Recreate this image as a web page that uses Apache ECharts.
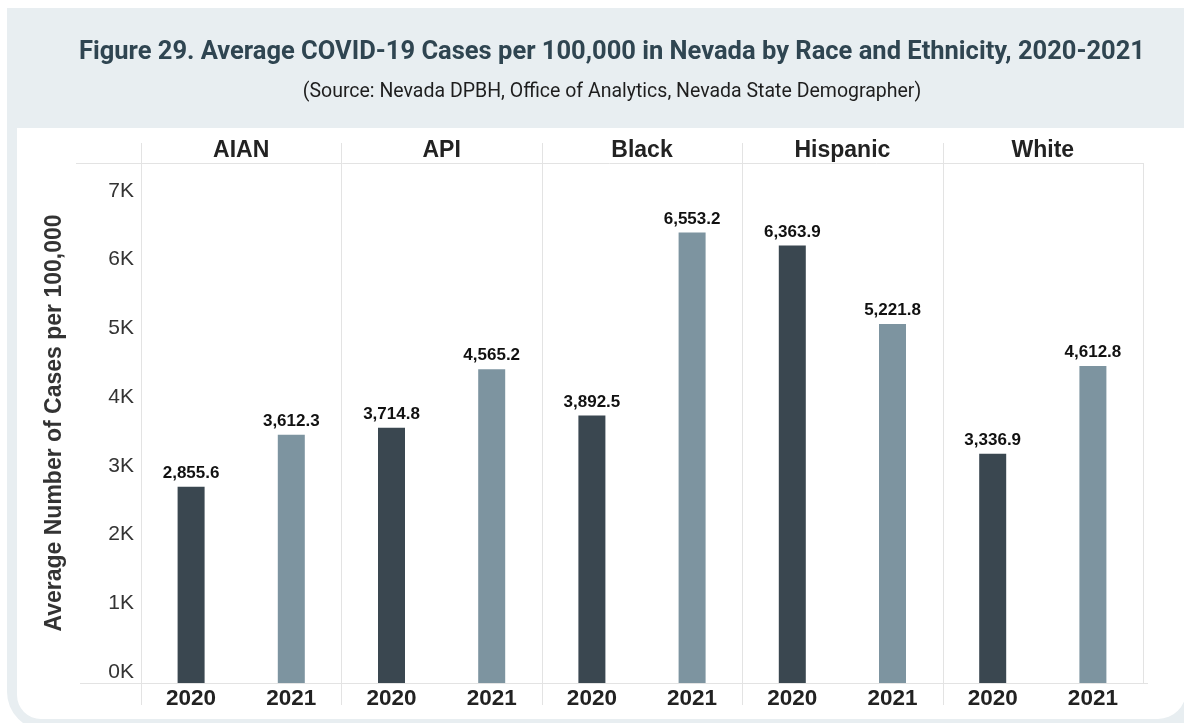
<!DOCTYPE html>
<html>
<head>
<meta charset="utf-8">
<script src="https://cdn.jsdelivr.net/npm/echarts@6/dist/echarts.min.js"></script>
<style>
html,body{margin:0;padding:0;background:#fff;}
#chart{width:1184px;height:723px;}
</style>
</head>
<body>
<div id="chart"></div>
<script>
// ---- data ----
var groups = ['AIAN', 'API', 'Black', 'Hispanic', 'White'];
var years = ['2020', '2021'];
var values2020 = [2855.6, 3714.8, 3892.5, 6363.9, 3336.9];
var values2021 = [3612.3, 4565.2, 6553.2, 5221.8, 4612.8];
var yTicks = [0, 1000, 2000, 3000, 4000, 5000, 6000, 7000];

var titleText = 'Figure 29. Average COVID-19 Cases per 100,000 in Nevada by Race and Ethnicity, 2020-2021';
var subtitleText = '(Source: Nevada DPBH, Office of Analytics, Nevada State Demographer)';
var yAxisTitle = 'Average Number of Cases per 100,000';

// ---- styling / layout ----
var COLORS = {'2020': '#3a4750', '2021': '#7d94a0'};
var FRAME = '#e8eef1';
var LINE = '#e3e3e3';
var FONT = 'Liberation Sans, Arial, sans-serif';
var G = {left: 141, top: 163, width: 1002, height: 520};

var categories = [];
var barData = [];
groups.forEach(function (g, gi) {
  years.forEach(function (y) {
    categories.push(y);
    var v = (y === '2020' ? values2020 : values2021)[gi];
    barData.push({value: v, itemStyle: {color: COLORS[y]}});
  });
});

function fmt(v) {
  return v.toLocaleString('en-US', {minimumFractionDigits: 1, maximumFractionDigits: 1});
}

var chart = echarts.init(document.getElementById('chart'), null, {renderer: 'canvas'});

var graphics = [
  {type: 'rect', z: -10, shape: {x: 7, y: 8, width: 1200, height: 722, r: [0, 0, 0, 38]}, style: {fill: FRAME}},
  {type: 'rect', z: -9, shape: {x: 17, y: 128, width: 1169, height: 591, r: [0, 0, 28, 24]}, style: {fill: '#ffffff'}},
  {type: 'line', z: -1, shape: {x1: 76, y1: G.top + 0.5, x2: G.left + G.width, y2: G.top + 0.5}, style: {stroke: LINE, lineWidth: 1}},
  {type: 'line', z: -1, shape: {x1: 80, y1: G.top + G.height + 0.5, x2: G.left + G.width + 5, y2: G.top + G.height + 0.5}, style: {stroke: LINE, lineWidth: 1}},
  {type: 'line', z: -1, shape: {x1: G.left + G.width + 0.5, y1: G.top, x2: G.left + G.width + 0.5, y2: G.top + G.height}, style: {stroke: LINE, lineWidth: 1}}
];
for (var i = 0; i < groups.length; i++) {
  var x = Math.round(G.left + i * G.width / groups.length) + 0.5;
  graphics.push({type: 'line', z: -1, shape: {x1: x, y1: G.top - 20, x2: x, y2: G.top + G.height + 22}, style: {stroke: LINE, lineWidth: 1}});
}

var option = {
  animation: false,
  backgroundColor: '#ffffff',
  title: {
    text: titleText,
    subtext: subtitleText,
    left: 607,
    textAlign: 'center',
    top: 34,
    itemGap: 15,
    textStyle: {fontFamily: 'Roboto', fontWeight: 'bold', fontSize: 25.5, lineHeight: 27, color: '#2f4551'},
    subtextStyle: {fontFamily: 'Roboto', fontSize: 19.5, lineHeight: 22, color: '#1e1e1e'}
  },
  graphic: graphics,
  grid: {left: G.left, top: G.top, width: G.width, height: G.height, outerBoundsMode: 'none', containLabel: false},
  xAxis: [
    {
      type: 'category',
      position: 'bottom',
      data: categories,
      axisLine: {show: false},
      axisTick: {show: false},
      splitLine: {show: false},
      axisLabel: {
        interval: 0, margin: 5,
        fontFamily: FONT, fontWeight: 'bold', fontSize: 22.5, lineHeight: 22, color: '#222'
      }
    },
    {
      type: 'category',
      position: 'top',
      data: groups,
      axisLine: {show: false},
      axisTick: {show: false},
      splitLine: {show: false},
      axisLabel: {
        interval: 0, margin: 1,
        fontFamily: FONT, fontWeight: 'bold', fontSize: 23, lineHeight: 22, color: '#222'
      }
    }
  ],
  yAxis: {
    type: 'value',
    min: 0,
    max: 7566,
    interval: 1000,
    name: yAxisTitle,
    nameLocation: 'middle',
    nameGap: 75,
    nameTextStyle: {fontFamily: FONT, fontWeight: 'bold', fontSize: 23, lineHeight: 23, color: '#333'},
    axisLine: {show: false},
    axisTick: {show: false},
    splitLine: {show: false},
    axisLabel: {
      margin: 7,
      verticalAlign: 'bottom',
      fontFamily: FONT, fontSize: 21, lineHeight: 22, color: '#333',
      formatter: function (v) { return yTicks.indexOf(v) >= 0 ? (v / 1000) + 'K' : ''; }
    }
  },
  series: [{
    type: 'bar',
    xAxisIndex: 0,
    data: barData,
    barWidth: 27,
    label: {
      show: true,
      position: 'top',
      distance: 5,
      fontFamily: FONT, fontWeight: 'bold', fontSize: 17, color: '#111',
      formatter: function (p) { return fmt(p.value); }
    }
  }]
};
chart.setOption(option);
</script>
</body>
</html>
